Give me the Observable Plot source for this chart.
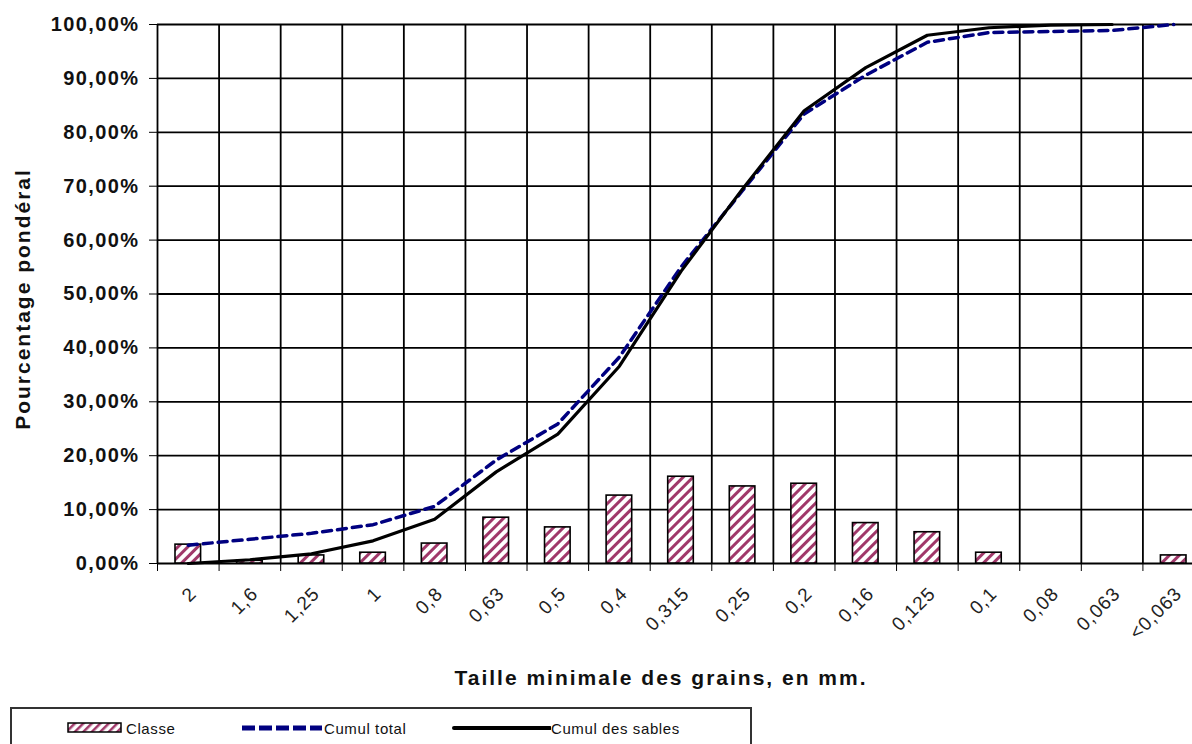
<!DOCTYPE html>
<html>
<head>
<meta charset="utf-8">
<script src="https://cdn.jsdelivr.net/npm/d3@7"></script>
<script src="https://cdn.jsdelivr.net/npm/@observablehq/plot@0.6"></script>
<style>
  html, body { margin: 0; padding: 0; background: #fff; overflow: hidden; }
  #wrap { position: relative; width: 1192px; height: 744px; overflow: hidden; }
  #wrap svg { overflow: hidden; }
  g[aria-label="y-axis tick label"] text { letter-spacing: 1.4px; }
  g.xlab text { letter-spacing: 1px; }
  .legend { position: absolute; left: 10px; top: 707px; width: 738px; height: 60px; border: 2px solid #333; background: #fff;
            font-family: "Liberation Sans", Arial, sans-serif; font-size: 15px; color: #111; letter-spacing: 0.6px; }
  .legend .it { position: absolute; top: 9px; height: 20px; display: flex; align-items: center; }
  .legend svg { display: block; }
</style>
</head>
<body>
<div id="wrap"></div>
<script>
// ---- data ----
const categories = ["2","1,6","1,25","1","0,8","0,63","0,5","0,4","0,315","0,25","0,2","0,16","0,125","0,1","0,08","0,063","<0,063"];
const classe = [3.5, 0.5, 1.5, 2.0, 3.7, 8.5, 6.7, 12.6, 16.1, 14.3, 14.8, 7.5, 5.8, 2.0, 0, 0, 1.5];
const cumulTotal = [3.4, 4.5, 5.6, 7.2, 10.6, 19.2, 25.9, 38.3, 55.0, 69.2, 83.4, 90.6, 96.7, 98.5, 98.7, 98.9, 100];
const cumulSables = [0, 0.7, 1.8, 4.2, 8.2, 17.0, 24.0, 36.6, 54.2, 69.5, 84.0, 92.0, 98.0, 99.4, 99.9, 100];
const yTicks = [0, 10, 20, 30, 40, 50, 60, 70, 80, 90, 100];
const xTitle = "Taille minimale des grains, en mm.";
const yTitle = "Pourcentage pondéral";
const legendLabels = ["Classe", "Cumul total", "Cumul des sables"];

// ---- tables ----
const boundaries = d3.range(categories.length + 1);
const classeData = categories.map((c, i) => ({i, c, v: classe[i]})).filter(d => d.v > 0);
const totalData = cumulTotal.map((v, i) => ({i, v}));
const sablesData = cumulSables.map((v, i) => ({i, v}));
const fmt = d => d.toFixed(2).replace(".", ",") + "%";

const chart = Plot.plot({
  width: 1192,
  height: 705,
  marginLeft: 157,
  marginRight: 0,
  marginTop: 24,
  marginBottom: 142,
  style: {fontFamily: "'Liberation Sans', Arial, sans-serif", background: "#fff", color: "#111"},
  x: {domain: [0, categories.length], range: [157, 1204], label: null},
  y: {domain: [0, 100], label: null},
  marks: [
    Plot.gridY(yTicks, {stroke: "#000", strokeOpacity: 1, strokeWidth: 1.8}),
    Plot.ruleX(boundaries, {stroke: "#000", strokeWidth: 1.8}),
    Plot.rectY(classeData, {x: "i", interval: 1, y: "v", insetLeft: 18, insetRight: 18,
      fill: "url(#hatch)", stroke: "#000", strokeWidth: 1.6}),
    Plot.line(totalData, {x: d => d.i + 0.5, y: "v", stroke: "#000080", strokeWidth: 3.5,
      strokeDasharray: "9,6", curve: "linear"}),
    Plot.line(sablesData, {x: d => d.i + 0.5, y: "v", stroke: "#000", strokeWidth: 3.2, curve: "linear"}),
    Plot.axisY(yTicks, {tickFormat: fmt, tickSize: 8, tickPadding: 10, fontSize: 20, fontWeight: "bold", stroke: "#000", label: null}),
    Plot.axisX(boundaries, {tickSize: 8, tickFormat: () => "", stroke: "#000", label: null}),
    Plot.text(categories, {x: (d, i) => i + 0.5, frameAnchor: "bottom", rotate: -45, textAnchor: "end",
      lineAnchor: "middle", dx: 5, dy: 27, fontSize: 19, fill: "#222", className: "xlab"}),
    Plot.text([xTitle], {frameAnchor: "bottom", dx: -14, dy: 121, fontSize: 21, fontWeight: "bold", fill: "#111", className: "xtitle"}),
    Plot.text([yTitle], {frameAnchor: "left", textAnchor: "middle", rotate: -90, dx: -134, dy: 5, fontSize: 21, fontWeight: "bold", fill: "#111", className: "ytitle"})
  ]
});

// hatch pattern
const defs = document.createElementNS("http://www.w3.org/2000/svg", "defs");
defs.innerHTML = '<pattern id="hatch" patternUnits="userSpaceOnUse" width="7" height="7" patternTransform="rotate(45)">' +
  '<rect width="7" height="7" fill="#fff"/><rect x="0" y="0" width="3" height="7" fill="#a0386a"/></pattern>';
chart.insertBefore(defs, chart.firstChild);

const wrap = document.getElementById("wrap");
wrap.appendChild(chart);
d3.select(chart).selectAll("g.xtitle text, g.ytitle text").style("letter-spacing", "2px");

// legend
const legend = document.createElement("div");
legend.className = "legend";
legend.innerHTML =
  '<div class="it" style="left:55px"><svg width="56" height="14"><rect x="1" y="2" width="53" height="9" fill="url(#hatchL)" stroke="#000" stroke-width="1.5"/>' +
  '<defs><pattern id="hatchL" patternUnits="userSpaceOnUse" width="6" height="6" patternTransform="rotate(45)"><rect width="6" height="6" fill="#fff"/><rect width="2.5" height="6" fill="#a0386a"/></pattern></defs></svg>' +
  '<span style="margin-left:3px">' + legendLabels[0] + '</span></div>' +
  '<div class="it" style="left:228px"><svg width="84" height="14"><line x1="2" y1="7" x2="82" y2="7" stroke="#000080" stroke-width="5" stroke-dasharray="13,4"/></svg>' +
  '<span>' + legendLabels[1] + '</span></div>' +
  '<div class="it" style="left:440px"><svg width="99" height="14"><line x1="2" y1="7" x2="98" y2="7" stroke="#000" stroke-width="4" stroke-linecap="round"/></svg>' +
  '<span>' + legendLabels[2] + '</span></div>';
wrap.appendChild(legend);
</script>
</body>
</html>
